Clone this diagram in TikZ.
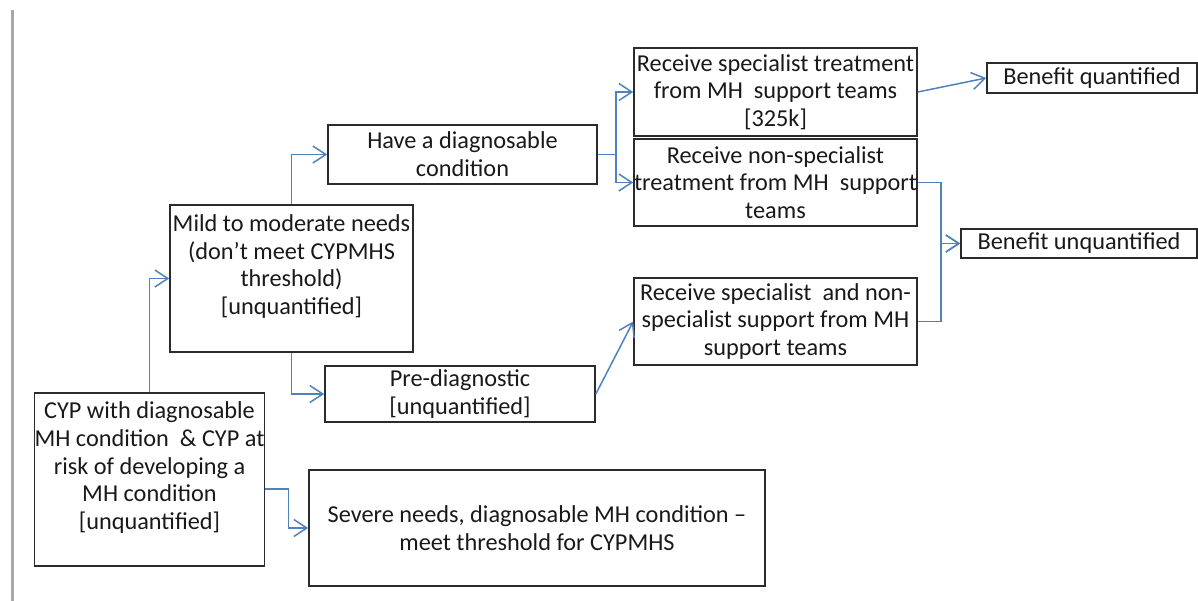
\documentclass[tikz,border=0pt]{standalone}
\usepackage{fontspec}
\setmainfont{Carlito}
\usetikzlibrary{arrows.meta,calc}
\definecolor{LinkClr}{rgb}{0.31,0.51,0.74}
\definecolor{EdgeClr}{rgb}{0.17,0.17,0.17}
\definecolor{RuleClr}{rgb}{0.66,0.66,0.66}

\begin{document}
\begin{tikzpicture}[x=1pt,y=-1pt,
  box/.style={draw=EdgeClr,line width=1.6pt,align=center,inner sep=0pt,
    font=\fontsize{24.3}{27.7}\selectfont,text=black!90},
  link/.style={draw=LinkClr,line width=1.5pt,-{Straight Barb[length=13pt,width=17pt,line width=1.5pt]}}]
\useasboundingbox (0,0) rectangle (1198,601);

\draw[RuleClr,line width=3pt] (12,10) -- (12,601);

\node[box,minimum width=229pt,minimum height=173pt] (CYP) at (149.5,479.5)
  {CYP with diagnosable\\MH condition \ \& CYP at\\risk of developing a\\MH condition\\{[}unquantified{]}\\ \mbox{}};
\node[box,minimum width=243pt,minimum height=147pt] (Mild) at (291.5,278.5)
  {Mild to moderate needs\\(don’t meet CYPMHS\\threshold)\\{[}unquantified{]}\\ \mbox{}};
\node[box,minimum width=269pt,minimum height=59pt] (Have) at (462.5,154.5)
  {Have a diagnosable\\condition};
\node[box,minimum width=270pt,minimum height=56pt] (Pre) at (460,394)
  {Pre-diagnostic\\{[}unquantified{]}};
\node[box,minimum width=456pt,minimum height=116pt] (Severe) at (537,528)
  {Severe needs, diagnosable MH condition –\\meet threshold for CYPMHS};

\node[box,minimum width=283pt,minimum height=88pt] (RecSpec) at (775.5,92)
  {Receive specialist treatment\\from MH \ support teams\\{[}325k{]}};
\node[box,minimum width=283pt,minimum height=87pt] (NonSpec) at (775.5,182.5)
  {Receive non-specialist\\treatment from MH \ support\\teams};
\node[box,minimum width=283pt,minimum height=87pt] (SpecNon) at (775.5,321.5)
  {Receive specialist \ and non-\\specialist support from MH\\support teams};

\node[box,minimum width=210pt,minimum height=30pt] (BenQ) at (1092,78)
  {Benefit quantified};
\node[box,minimum width=236pt,minimum height=29pt] (BenU) at (1079,243.5)
  {Benefit unquantified};

\coordinate (cypout) at ($(CYP.east)+(0,9.5)$);

\draw[link] (CYP.north) |- (Mild.west);
\draw[link] (cypout) -- ++(23,0) |- (Severe.west);
\draw[link] (Mild.north) |- (Have.west);
\draw[link] (Mild.south) |- (Pre.west);
\draw[link] (Have.east) -- ++(18,0) |- (RecSpec.west);
\draw[link] (Have.east) -- ++(18,0) |- (NonSpec.west);
\draw[link] (Pre.east) -- (SpecNon.west);
\draw[link] (RecSpec.east) -- (BenQ.west);
\draw[link] (NonSpec.east) -- ++(23,0) |- (BenU.west);
\draw[link] (SpecNon.east) -- ++(23,0) |- (BenU.west);

\end{tikzpicture}
\end{document}
